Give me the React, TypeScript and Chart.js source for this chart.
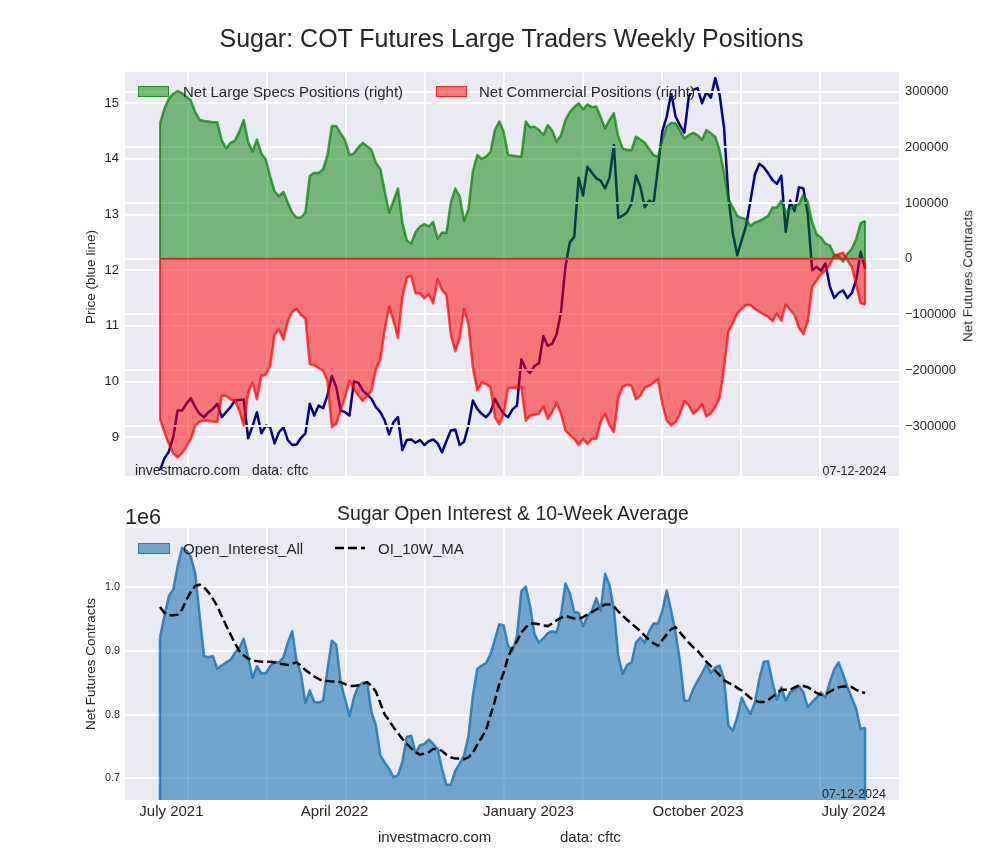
import React, { useEffect, useRef } from "react";
import { Chart, registerables } from "chart.js";

Chart.register(...registerables);

// ---------------- data (weekly, index 0 = mid June 2021, last = 9 July 2024) ----------------
const price = [
  8.41, 8.62, 8.74, 9.0, 9.48, 9.48, 9.6, 9.7, 9.54, 9.42, 9.36,
  9.45, 9.51, 9.6, 9.36, 9.45, 9.54, 9.66, 9.67, 9.68, 8.98,
  9.2, 9.45, 9.07, 9.21, 9.18, 8.89, 9.09, 9.18, 8.95, 8.86,
  8.87, 8.99, 9.07, 9.6, 9.39, 9.57, 9.52, 9.75, 10.1, 9.9,
  9.48, 9.45, 9.39, 10.0, 9.98, 9.84, 9.77, 9.69, 9.54, 9.45,
  9.3, 9.05, 9.27, 9.36, 8.77, 8.95, 8.96, 8.9, 8.95, 8.86,
  8.93, 8.96, 8.89, 8.73, 8.93, 9.12, 9.14, 8.86, 8.92, 9.21,
  9.66, 9.51, 9.42, 9.36, 9.45, 9.69, 9.54, 9.42, 9.36, 9.5,
  9.57, 10.4, 10.22, 10.16, 10.28, 10.33, 10.82, 10.64, 10.68, 10.85,
  11.25, 12.06, 12.5, 12.6, 13.66, 13.34, 13.86, 13.75, 13.65, 13.61,
  13.47, 13.66, 14.25, 12.94, 12.98, 13.04, 13.2, 13.7, 13.5, 13.13,
  13.25, 13.2, 13.84, 14.5, 14.76, 15.18, 14.76, 14.6, 14.47, 15.12,
  15.24, 15.27, 15.0, 15.2, 15.1, 15.45, 15.15, 14.55, 13.3, 12.66,
  12.27, 12.54, 12.8, 13.25, 13.72, 13.91, 13.85, 13.74, 13.62, 13.55,
  13.7, 12.69, 13.25, 13.06, 13.49, 13.47, 13.01, 12.0, 12.06, 11.99,
  12.12, 11.71, 11.5, 11.59, 11.64, 11.5, 11.59, 11.83, 12.33, 12.03,
];

const largeSpecs = [
  243000, 269000, 287000, 296000, 301000, 297000, 291000, 284000, 263000, 249000, 247000,
  246000, 245000, 245000, 213000, 198000, 208000, 212000, 228000, 249000, 210000,
  192000, 214000, 189000, 178000, 148000, 121000, 112000, 120000, 101000, 83000,
  74000, 74000, 83000, 149000, 154000, 154000, 160000, 186000, 238000, 238000,
  225000, 213000, 186000, 189000, 200000, 208000, 202000, 195000, 172000, 161000,
  121000, 83000, 104000, 126000, 65000, 33000, 27000, 48000, 58000, 62000,
  58000, 66000, 36000, 47000, 46000, 101000, 126000, 112000, 68000, 89000,
  157000, 186000, 179000, 183000, 192000, 231000, 246000, 228000, 186000, 185000,
  184000, 183000, 246000, 236000, 237000, 231000, 222000, 240000, 230000, 210000,
  222000, 249000, 263000, 272000, 279000, 268000, 277000, 272000, 273000, 254000,
  234000, 249000, 261000, 219000, 198000, 195000, 195000, 219000, 214000, 208000,
  197000, 186000, 183000, 213000, 237000, 244000, 243000, 230000, 216000, 222000,
  226000, 222000, 213000, 231000, 225000, 219000, 195000, 154000, 107000, 92000,
  77000, 73000, 71000, 59000, 65000, 68000, 72000, 77000, 92000, 92000,
  104000, 83000, 89000, 95000, 98000, 115000, 102000, 65000, 44000, 38000,
  27000, 24000, 7000, 5000, -5000, 9000, 18000, 36000, 64000, 68000,
];

const commercial = [
  -287000, -311000, -332000, -349000, -356000, -349000, -337000, -323000, -300000, -292000, -290000,
  -291000, -292000, -293000, -246000, -246000, -252000, -255000, -272000, -299000, -240000,
  -222000, -252000, -210000, -208000, -192000, -136000, -127000, -145000, -112000, -95000,
  -90000, -101000, -107000, -189000, -191000, -196000, -201000, -219000, -302000, -296000,
  -272000, -249000, -219000, -234000, -245000, -255000, -246000, -237000, -198000, -181000,
  -127000, -86000, -112000, -142000, -68000, -34000, -31000, -62000, -62000, -71000,
  -64000, -80000, -37000, -56000, -65000, -136000, -166000, -142000, -90000, -118000,
  -195000, -236000, -222000, -225000, -230000, -284000, -297000, -278000, -232000, -232000,
  -231000, -230000, -291000, -281000, -280000, -278000, -265000, -287000, -275000, -258000,
  -278000, -308000, -316000, -323000, -334000, -323000, -332000, -323000, -323000, -293000,
  -278000, -299000, -311000, -249000, -230000, -226000, -228000, -252000, -246000, -231000,
  -228000, -222000, -216000, -261000, -290000, -299000, -293000, -278000, -255000, -263000,
  -278000, -272000, -261000, -283000, -277000, -266000, -249000, -195000, -130000, -115000,
  -98000, -90000, -83000, -83000, -90000, -95000, -100000, -104000, -112000, -98000,
  -111000, -82000, -92000, -101000, -124000, -135000, -112000, -50000, -39000, -28000,
  -21000, -11000, 6000, 8000, 11000, -3000, -15000, -47000, -80000, -82000,
];

const openInterest = [
  921000, 955000, 986000, 996000, 1033000, 1062000, 1058000, 1048000, 1022000, 955000, 892000,
  890000, 892000, 872000, 877000, 882000, 886000, 897000, 905000, 919000, 890000,
  858000, 876000, 865000, 865000, 876000, 883000, 882000, 890000, 913000, 931000,
  884000, 864000, 818000, 838000, 820000, 819000, 822000, 871000, 916000, 910000,
  851000, 825000, 798000, 827000, 845000, 850000, 851000, 804000, 783000, 736000,
  725000, 715000, 702000, 705000, 726000, 765000, 767000, 740000, 752000, 754000,
  761000, 754000, 746000, 715000, 690000, 690000, 712000, 723000, 736000, 767000,
  830000, 872000, 877000, 881000, 895000, 918000, 942000, 940000, 908000, 900000,
  923000, 994000, 1001000, 970000, 926000, 913000, 920000, 928000, 931000, 929000,
  957000, 1006000, 991000, 961000, 960000, 939000, 954000, 963000, 983000, 963000,
  1021000, 1004000, 965000, 892000, 864000, 878000, 882000, 913000, 921000, 913000,
  931000, 943000, 943000, 963000, 995000, 963000, 929000, 884000, 822000, 822000,
  840000, 853000, 865000, 879000, 866000, 874000, 877000, 856000, 783000, 775000,
  796000, 827000, 812000, 801000, 819000, 856000, 883000, 884000, 851000, 823000,
  843000, 822000, 835000, 840000, 845000, 835000, 812000, 820000, 827000, 835000,
  827000, 851000, 871000, 882000, 864000, 843000, 826000, 809000, 777000, 780000,
];

const oi10wMA = [
  969000, 960000, 956000, 956000, 957000, 965000, 980000, 993000, 1002000, 1004000, 1000000,
  992000, 982000, 970000, 955000, 940000, 926000, 912000, 900000, 893000, 888000,
  885000, 884000, 883000, 883000, 883000, 882000, 880000, 879000, 878000, 880000,
  882000, 877000, 870000, 865000, 860000, 856000, 853000, 853000, 852000, 852000,
  851000, 848000, 845000, 845000, 846000, 848000, 851000, 845000, 836000, 818000,
  800000, 791000, 780000, 771000, 762000, 754000, 747000, 741000, 737000, 739000,
  741000, 746000, 746000, 743000, 737000, 733000, 731000, 731000, 730000, 733000,
  740000, 753000, 764000, 776000, 799000, 822000, 848000, 866000, 891000, 905000,
  915000, 929000, 937000, 943000, 943000, 942000, 940000, 939000, 943000, 948000,
  952000, 955000, 953000, 951000, 950000, 953000, 957000, 961000, 965000, 969000,
  973000, 973000, 970000, 962000, 955000, 949000, 943000, 937000, 931000, 924000,
  917000, 912000, 908000, 917000, 926000, 934000, 937000, 929000, 921000, 913000,
  906000, 900000, 892000, 883000, 876000, 869000, 862000, 854000, 850000, 847000,
  842000, 838000, 832000, 826000, 822000, 820000, 820000, 823000, 828000, 834000,
  839000, 839000, 839000, 843000, 846000, 845000, 843000, 839000, 834000, 831000,
  832000, 836000, 840000, 843000, 844000, 844000, 843000, 839000, 836000, 834000,
];

// axis ticks / labels (week-index positions)
const xGridAt = [6.3, 24.23, 42.16, 60.09, 78.02, 95.95, 113.88, 131.81, 149.74];
const xTickLabels = ["July 2021", "April 2022", "January 2023", "October 2023", "July 2024"];
const xTickAt = [2.6, 39.6, 83.6, 122.1, 157.4];
const priceTicks = [9, 10, 11, 12, 13, 14, 15];
const netTicks = [-300000, -200000, -100000, 0, 100000, 200000, 300000];
const oiTicks = [700000, 800000, 900000, 1000000];

// ---------------- styling ----------------
const FONT = '"Liberation Sans", Arial, Helvetica, sans-serif';
const TXT = "#262626";
const BG = "#EAEAF2";
const X_MIN = -7.94;
const X_MAX = 167.7;
const GREEN_LINE = "rgba(0,128,0,0.7)";
const GREEN_FILL = "rgba(0,128,0,0.5)";
const RED_LINE = "rgba(255,0,0,0.7)";
const RED_FILL = "rgba(255,0,0,0.5)";
const OI_LINE = "rgba(31,119,180,0.85)";
const OI_FILL = "rgba(31,119,180,0.6)";

Chart.defaults.font.family = FONT;

const toPts = (arr: number[]) => arr.map((y, x) => ({ x, y }));

const plotBg = {
  id: "plotBg",
  beforeDraw(chart: any) {
    const { ctx, chartArea } = chart;
    ctx.save();
    ctx.fillStyle = BG;
    ctx.fillRect(chartArea.left, chartArea.top, chartArea.right - chartArea.left, chartArea.bottom - chartArea.top);
    ctx.restore();
  },
};

const gridX = () => ({
  type: "linear",
  position: "bottom",
  min: X_MIN,
  max: X_MAX,
  ticks: { display: false },
  grid: { color: "#ffffff", lineWidth: 2, drawTicks: false },
  border: { display: false },
  afterBuildTicks: (s: any) => {
    s.ticks = xGridAt.map((v) => ({ value: v }));
  },
  afterFit: (s: any) => {
    s.height = 0;
  },
});

// right-axis grid is drawn over the price line (twin axis on top), under the fills
const rightGrid = {
  id: "rightGrid",
  afterDatasetDraw(chart: any, args: any) {
    if (args.index !== 0) return;
    const s = chart.scales.yR;
    const { left, right } = chart.chartArea;
    const ctx = chart.ctx;
    ctx.save();
    ctx.strokeStyle = "#ffffff";
    ctx.lineWidth = 2;
    s.ticks.forEach((t: any) => {
      const y = Math.round(s.getPixelForValue(t.value));
      ctx.beginPath();
      ctx.moveTo(left, y);
      ctx.lineTo(right, y);
      ctx.stroke();
    });
    ctx.restore();
  },
};

const topEdges = {
  id: "topEdges",
  afterDatasetsDraw(chart: any) {
    const xs = chart.scales.x;
    const ys = chart.scales.yR;
    const ctx = chart.ctx;
    const y0 = ys.getPixelForValue(0);
    const last = largeSpecs.length - 1;
    ctx.save();
    ctx.lineWidth = 2;
    const pairs: [number[], string][] = [
      [largeSpecs, GREEN_LINE],
      [commercial, RED_LINE],
    ];
    pairs.forEach(([arr, c]) => {
      ctx.strokeStyle = c;
      [0, last].forEach((i) => {
        const px = xs.getPixelForValue(i);
        ctx.beginPath();
        ctx.moveTo(px, y0);
        ctx.lineTo(px, ys.getPixelForValue(arr[i]));
        ctx.stroke();
      });
    });
    ctx.strokeStyle = "rgba(192,48,32,0.95)";
    ctx.beginPath();
    ctx.moveTo(xs.getPixelForValue(0), y0);
    ctx.lineTo(xs.getPixelForValue(last), y0);
    ctx.stroke();
    ctx.restore();
  },
};

const bottomEdges = {
  id: "bottomEdges",
  afterDatasetDraw(chart: any, args: any) {
    if (args.index !== 0) return;
    const xs = chart.scales.x;
    const ys = chart.scales.y;
    const ctx = chart.ctx;
    const last = openInterest.length - 1;
    ctx.save();
    ctx.lineWidth = 2.5;
    ctx.strokeStyle = OI_LINE;
    [0, last].forEach((i) => {
      const px = xs.getPixelForValue(i);
      ctx.beginPath();
      ctx.moveTo(px, chart.chartArea.bottom);
      ctx.lineTo(px, ys.getPixelForValue(openInterest[i]));
      ctx.stroke();
    });
    ctx.restore();
  },
};

const minusFmt = (v: number) => (v < 0 ? "\u2212" + Math.abs(v) : String(v));

function Txt(props: {
  x: number;
  y: number;
  size: number;
  anchor?: "start" | "middle";
  rotate?: boolean;
  children: React.ReactNode;
}) {
  const { x, y, size, anchor = "start", rotate = false, children } = props;
  const transform = rotate
    ? "translate(-50%,-50%) rotate(-90deg)"
    : anchor === "middle"
    ? "translate(-50%,-50%)"
    : "translate(0,-50%)";
  return (
    <div
      style={{
        position: "absolute",
        left: x,
        top: y,
        fontSize: size,
        lineHeight: 1,
        whiteSpace: "nowrap",
        color: TXT,
        transform,
      }}
    >
      {children}
    </div>
  );
}

export default function App() {
  const topRef = useRef<HTMLCanvasElement>(null);
  const botRef = useRef<HTMLCanvasElement>(null);

  useEffect(() => {
    const top = new Chart(topRef.current as HTMLCanvasElement, {
      type: "line",
      data: {
        datasets: [
          {
            label: "Price (blue line)",
            data: toPts(price),
            xAxisID: "x",
            yAxisID: "yL",
            borderColor: "#00008B",
            borderWidth: 2.5,
            pointRadius: 0,
            fill: false,
            tension: 0,
            borderJoinStyle: "round",
            order: 3,
          },
          {
            label: "Net Large Specs Positions (right)",
            data: toPts(largeSpecs),
            xAxisID: "x",
            yAxisID: "yR",
            borderColor: GREEN_LINE,
            backgroundColor: GREEN_FILL,
            borderWidth: 2.5,
            pointRadius: 0,
            fill: "origin",
            tension: 0,
            borderJoinStyle: "round",
            order: 2,
          },
          {
            label: "Net Commercial Positions (right)",
            data: toPts(commercial),
            xAxisID: "x",
            yAxisID: "yR",
            borderColor: RED_LINE,
            backgroundColor: RED_FILL,
            borderWidth: 2.5,
            pointRadius: 0,
            fill: "origin",
            tension: 0,
            borderJoinStyle: "round",
            order: 1,
          },
        ],
      } as any,
      options: {
        responsive: false,
        animation: false,
        devicePixelRatio: 1,
        layout: { padding: { top: 72, bottom: 10, left: 0, right: 0 } },
        plugins: { legend: { display: false }, tooltip: { enabled: false }, title: { display: false } },
        scales: {
          x: gridX(),
          yL: {
            type: "linear",
            position: "left",
            min: 8.3,
            max: 15.56,
            afterBuildTicks: (s: any) => {
              s.ticks = priceTicks.map((v) => ({ value: v }));
            },
            afterFit: (s: any) => {
              s.width = 125;
            },
            ticks: { color: TXT, font: { size: 13, family: FONT }, padding: 6, callback: (v: any) => String(v) },
            grid: { color: "#ffffff", lineWidth: 2, drawTicks: false },
            border: { display: false },
          },
          yR: {
            type: "linear",
            position: "right",
            min: -390100,
            max: 335000,
            afterBuildTicks: (s: any) => {
              s.ticks = netTicks.map((v) => ({ value: v }));
            },
            afterFit: (s: any) => {
              s.width = 101;
            },
            ticks: { color: TXT, font: { size: 13, family: FONT }, padding: 6, callback: (v: any) => minusFmt(v) },
            grid: { display: false, drawTicks: false },
            border: { display: false },
          },
        },
      } as any,
      plugins: [plotBg, rightGrid, topEdges],
    });

    const bottom = new Chart(botRef.current as HTMLCanvasElement, {
      type: "line",
      data: {
        datasets: [
          {
            label: "Open_Interest_All",
            data: toPts(openInterest),
            xAxisID: "x",
            yAxisID: "y",
            borderColor: OI_LINE,
            backgroundColor: OI_FILL,
            borderWidth: 2.5,
            pointRadius: 0,
            fill: "origin",
            tension: 0,
            borderJoinStyle: "round",
            order: 2,
          },
          {
            label: "OI_10W_MA",
            data: toPts(oi10wMA),
            xAxisID: "x",
            yAxisID: "y",
            borderColor: "#000000",
            borderWidth: 2.5,
            borderDash: [9, 4],
            pointRadius: 0,
            fill: false,
            tension: 0,
            order: 1,
          },
        ],
      } as any,
      options: {
        responsive: false,
        animation: false,
        devicePixelRatio: 1,
        layout: { padding: { top: 38, bottom: 0, left: 0, right: 101 } },
        plugins: { legend: { display: false }, tooltip: { enabled: false }, title: { display: false } },
        scales: {
          x: gridX(),
          xl: {
            type: "linear",
            position: "bottom",
            min: X_MIN,
            max: X_MAX,
            grid: { display: false, drawTicks: false },
            border: { display: false },
            ticks: {
              color: TXT,
              font: { size: 15, family: FONT },
              padding: 3,
              autoSkip: false,
              maxRotation: 0,
              minRotation: 0,
              callback: (_v: any, i: number) => xTickLabels[i] ?? "",
            },
            afterBuildTicks: (s: any) => {
              s.ticks = xTickAt.map((v) => ({ value: v }));
            },
            afterFit: (s: any) => {
              s.height = 60;
            },
          },
          y: {
            type: "linear",
            position: "left",
            min: 666000,
            max: 1093000,
            afterBuildTicks: (s: any) => {
              s.ticks = oiTicks.map((v) => ({ value: v }));
            },
            afterFit: (s: any) => {
              s.width = 125;
            },
            ticks: {
              color: TXT,
              font: { size: 10.8, family: FONT },
              padding: 5,
              callback: (v: any) => (v / 1e6).toFixed(1),
            },
            grid: { color: "#ffffff", lineWidth: 2, drawTicks: false },
            border: { display: false },
          },
        },
      } as any,
      plugins: [plotBg, bottomEdges],
    });

    return () => {
      top.destroy();
      bottom.destroy();
    };
  }, []);

  const patch = (left: number, top: number, bg: string, edge: string): React.CSSProperties => ({
    position: "absolute",
    left,
    top,
    width: 31,
    height: 11,
    background: bg,
    border: `1.5px solid ${edge}`,
    boxSizing: "border-box",
  });

  return (
    <div
      style={{
        position: "absolute",
        left: 0,
        top: 0,
        width: 1000,
        height: 860,
        background: "#ffffff",
        fontFamily: FONT,
        overflow: "hidden",
      }}
    >
      <canvas
        ref={topRef}
        width={1000}
        height={490}
        style={{ position: "absolute", left: 0, top: 0, width: 1000, height: 490 }}
      />
      <canvas
        ref={botRef}
        width={1000}
        height={370}
        style={{ position: "absolute", left: 0, top: 490, width: 1000, height: 370 }}
      />

      <Txt x={511.5} y={38} size={25} anchor="middle">
        Sugar: COT Futures Large Traders Weekly Positions
      </Txt>
      <Txt x={91} y={277} size={13.5} rotate>
        Price (blue line)
      </Txt>
      <Txt x={968} y={276} size={13.5} rotate>
        Net Futures Contracts
      </Txt>

      <div style={patch(138, 85.5, GREEN_FILL, GREEN_LINE)} />
      <Txt x={183} y={91} size={15}>
        Net Large Specs Positions (right)
      </Txt>
      <div style={patch(436, 85.5, RED_FILL, RED_LINE)} />
      <Txt x={479} y={91} size={15}>
        Net Commercial Positions (right)
      </Txt>

      <Txt x={135} y={471} size={13.9}>
        investmacro.com
      </Txt>
      <Txt x={252} y={471} size={13.9}>
        data: cftc
      </Txt>
      <Txt x={822.5} y={471} size={12.5}>
        07-12-2024
      </Txt>

      <Txt x={125} y={516.5} size={21.6}>
        1e6
      </Txt>
      <Txt x={513} y={514} size={19.4} anchor="middle">
        Sugar Open Interest &amp; 10-Week Average
      </Txt>
      <Txt x={91} y={664} size={13.5} rotate>
        Net Futures Contracts
      </Txt>

      <div style={{ ...patch(138, 542.5, OI_FILL, OI_LINE), width: 32 }} />
      <Txt x={183} y={548} size={15}>
        Open_Interest_All
      </Txt>
      <svg style={{ position: "absolute", left: 333, top: 543, width: 34, height: 10 }} width={34} height={10}>
        <line x1={2} y1={5} x2={32} y2={5} stroke="#000" strokeWidth={2.5} strokeDasharray="9,4" />
      </svg>
      <Txt x={378} y={548} size={15}>
        OI_10W_MA
      </Txt>

      <Txt x={822} y={793.7} size={12.5}>
        07-12-2024
      </Txt>
      <Txt x={378} y={836} size={15}>
        investmacro.com
      </Txt>
      <Txt x={560} y={836} size={15}>
        data: cftc
      </Txt>
    </div>
  );
}
